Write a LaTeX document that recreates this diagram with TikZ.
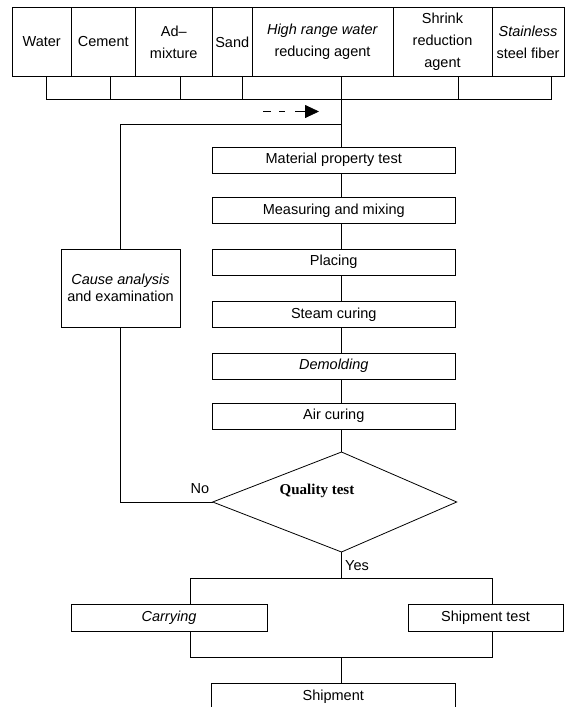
\documentclass[tikz,border=0pt]{standalone}
\usepackage{fontspec}
\setmainfont{Liberation Sans}
\newfontfamily\qfont{Liberation Serif}
\usetikzlibrary{arrows.meta}
\begin{document}
\begin{tikzpicture}[x=1pt,y=-1pt,line width=0.8pt,
  every node/.style={font=\fontsize{14.5}{22}\selectfont},
  box/.style={draw,inner sep=0pt,outer sep=0pt,align=center},
  topbox/.style={box,minimum height=69pt},
  lowbox/.style={box,minimum height=22.5pt},
  procbox/.style={box,minimum width=243.5pt,minimum height=26pt},
  lbl/.style={inner sep=0pt}]
\path[use as bounding box] (0,0) rectangle (568,707);
% top row
\node[topbox,minimum width=59.5pt] (water) at (41.75,42) {Water};
\node[topbox,minimum width=63.5pt] (cement) at (103.25,42) {Cement};
\node[topbox,minimum width=77.5pt] (admix) at (173.75,42) {Ad–\\mixture};
\node[topbox,minimum width=39.5pt] (sand) at (232.25,42) {Sand};
\node[topbox,minimum width=141pt] (hrwr) at (322.5,42) {\textit{High range water}\\reducing agent};
\node[topbox,minimum width=99pt] (shrink) at (442.5,42) {Shrink\\reduction\\agent};
\node[topbox,minimum width=72pt] (steel) at (528,42) {\textit{Stainless}\\steel fiber};
% lower row
\node[lowbox,minimum width=64.5pt] (l1) at (78.25,87.75) {};
\node[lowbox,minimum width=69.5pt] (l2) at (145.25,87.75) {};
\node[lowbox,minimum width=62pt] (l3) at (211,87.75) {};
\node[lowbox,minimum width=99.5pt] (l4) at (291.75,87.75) {};
\node[lowbox,minimum width=116.5pt] (l5) at (399.75,87.75) {};
\node[lowbox,minimum width=93.5pt] (l6) at (504.75,87.75) {};
% process boxes
\node[procbox] (mat) at (333.75,160) {Material property test};
\node[procbox] (mix) at (333.75,210.5) {Measuring and mixing};
\node[procbox] (place) at (333.75,262) {Placing};
\node[procbox] (steam) at (333.75,314.5) {Steam curing};
\node[procbox] (demold) at (333.75,366) {\textit{Demolding}};
\node[procbox] (air) at (333.75,416) {Air curing};
\node[box,minimum width=119pt,minimum height=78pt,font=\fontsize{14.5}{17}\selectfont] (cause) at (120.5,288) {\textit{Cause analysis}\\and examination};
% diamond
\coordinate (qtT) at (341.5,452);
\coordinate (qtR) at (456.7,502);
\coordinate (qtB) at (341.5,552);
\coordinate (qtL) at (212.7,502);
\draw (qtT) -- (qtR) -- (qtB) -- (qtL) -- cycle;
\node[lbl,anchor=base,font=\qfont\bfseries\fontsize{15}{18}\selectfont] (qt) at (317,494.5) {Quality test};
\node[lbl] (no) at (200,489) {No};
\node[lbl] (yes) at (357,566) {Yes};
% bottom boxes
\node[box,minimum width=196pt,minimum height=27pt] (carry) at (169,617.5) {\textit{Carrying}};
\node[box,minimum width=155pt,minimum height=27pt] (shipt) at (485.5,617.5) {Shipment test};
\node[box,minimum width=244.5pt,minimum height=28pt] (ship) at (333.25,697) {Shipment};
% connectors
\coordinate (fb) at (341.5,124);
\draw (l4.south east) -- (l4.south east |- mat.north);
\draw (cause.north) |- (fb);
\coordinate (da) at (263,111.5);
\coordinate (db) at (319,111.5);
\draw[dash pattern=on 8pt off 8pt on 6pt off 10pt on 30pt,-{Triangle[length=14pt,width=13pt]}] (da) -- (db);
\draw (mat.south -| fb) -- (mix.north -| fb);
\draw (mix.south -| fb) -- (place.north -| fb);
\draw (place.south -| fb) -- (steam.north -| fb);
\draw (steam.south -| fb) -- (demold.north -| fb);
\draw (demold.south -| fb) -- (air.north -| fb);
\draw (air.south -| fb) -- (qtT);
\draw (cause.south) |- (qtL);
\coordinate (yC) at (341.5,578);
\coordinate (yL) at (190,578);
\coordinate (yR) at (492,578);
\coordinate (bL) at (190,657);
\coordinate (bR) at (492,657);
\coordinate (bC) at (341.5,657);
\draw (qtB) -- (yC);
\draw (yL) -- (yR);
\draw (yL) -- (yL |- carry.north);
\draw (yR) -- (yR |- shipt.north);
\draw (yL |- carry.south) -- (bL) -- (bR) -- (yR |- shipt.south);
\draw (bC) -- (bC |- ship.north);
\end{tikzpicture}
\end{document}
